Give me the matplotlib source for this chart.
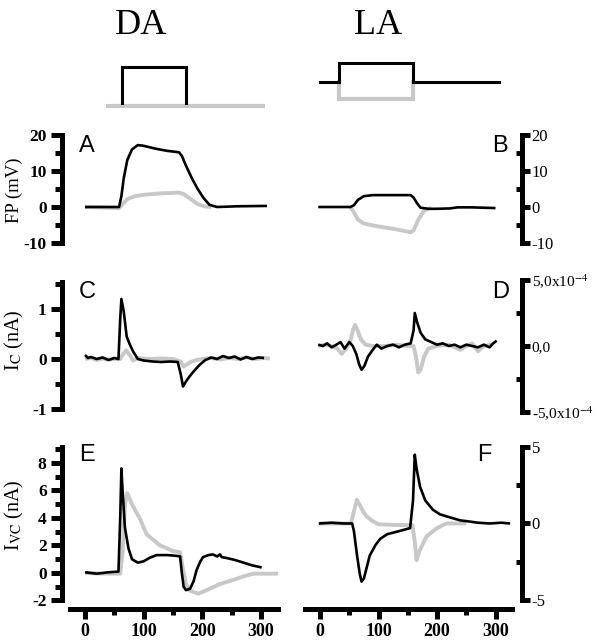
import matplotlib
matplotlib.use("Agg")
import matplotlib.pyplot as plt
from matplotlib.ticker import MultipleLocator, FixedLocator

plt.rcParams['mathtext.fontset'] = 'stix'
SERIF = 'Liberation Serif'
SANS = 'Liberation Sans'

BLACK = '#000000'
GRAY = '#c8c8c8'

# ---------------- data ----------------
# stimulus protocols (time in ms, level in arbitrary units)
da_stim_t_black = [63, 63, 172, 172]
da_stim_black = [0.0, 1.0, 1.0, 0.0]
da_stim_t_gray = [36, 307]
da_stim_gray = [-0.083, -0.083]
la_stim_t_black = [0, 32.5, 32.5, 159, 159, 306]
la_stim_black = [0.583, 0.583, 1.11, 1.11, 0.583, 0.583]
la_stim_t_gray = [32.5, 32.5, 159, 159]
la_stim_gray = [0.583, 0.111, 0.111, 0.583]

# A: FP (mV), DA
a_t_black = [0, 58, 62, 66, 72, 80, 90, 100, 120, 140, 160, 165, 172, 182, 192, 202, 212, 225, 260, 310]
a_black = [0, 0, 3, 8, 13, 16, 17.2, 17.0, 16.2, 15.6, 15.2, 14.2, 11.5, 8.0, 5.0, 2.5, 0.6, 0.0, 0.2, 0.3]
a_t_gray = [0, 58, 64, 72, 85, 100, 130, 160, 168, 180, 192, 205, 215]
a_gray = [0, -0.3, 0.8, 2.2, 3.0, 3.4, 3.8, 4.0, 3.6, 2.2, 0.8, 0.1, 0]

# B: FP (mV), LA
b_t_black = [-3, 52, 58, 65, 75, 90, 120, 155, 160, 166, 172, 185, 200, 222, 235, 260, 300]
b_black = [0, 0, 0.5, 2.0, 3.0, 3.3, 3.3, 3.3, 2.6, 1.0, -0.2, -0.5, -0.5, -0.4, -0.1, -0.1, -0.3]
b_t_gray = [52, 58, 65, 75, 100, 130, 155, 160, 168, 178, 190]
b_gray = [0, -1.5, -3.5, -4.6, -5.4, -6.2, -7.0, -6.5, -3.5, -1.0, -0.2]

# C: Ic (nA), DA
c_t_black = [0, 5, 10, 20, 30, 40, 50, 57, 60, 62, 66, 71, 76, 82, 90, 100, 115, 130, 145, 158, 163, 167,
             172, 178, 185, 195, 205, 215, 225, 235, 245, 255, 265, 275, 285, 295, 305]
c_black = [0.08, 0.02, 0.04, 0.0, 0.03, -0.02, 0.02, 0.0, 0.8, 1.2, 0.95, 0.45, 0.3, 0.15, 0.0, -0.03, -0.05,
           -0.06, -0.05, -0.06, -0.3, -0.55, -0.45, -0.35, -0.25, -0.12, -0.02, 0.03, 0.0, 0.06, 0.02, 0.05,
           -0.01, 0.04, 0.0, 0.03, 0.02]
c_t_gray = [0, 10, 20, 30, 40, 50, 60, 65, 70, 76, 82, 90, 110, 130, 150, 163, 168, 172, 180, 190, 200, 215,
            230, 245, 260, 275, 290, 305, 315]
c_gray = [0.0, 0.02, -0.02, 0.01, -0.01, 0.0, 0.0, 0.1, 0.17, 0.08, -0.03, 0.02, 0.0, 0.01, 0.0, -0.05, -0.15,
          -0.12, -0.06, -0.02, 0.0, 0.02, -0.01, 0.02, 0.0, 0.03, 0.0, 0.02, 0.01]

# D: Ic (x1e-4), LA
d_t_black = [-3, 5, 12, 20, 28, 35, 42, 50, 56, 62, 67, 71, 76, 82, 90, 97, 105, 115, 125, 135, 145, 155, 160,
             162, 166, 172, 180, 190, 200, 210, 220, 230, 240, 250, 260, 270, 280, 290, 296, 302]
d_black_e4 = [0.1, 0.0, 0.2, -0.1, 0.1, 0.3, -0.2, 0.3, 0.0, -0.6, -1.4, -1.8, -1.5, -0.8, -0.3, 0.1, -0.2, 0.0,
              0.1, -0.1, 0.1, 0.2, 1.2, 2.5, 1.8, 1.0, 0.5, 0.3, 0.1, 0.2, 0.0, 0.1, -0.1, 0.1, 0.0, -0.1, 0.1,
              -0.1, 0.2, 0.4]
d_t_gray = [-3, 10, 20, 30, 37, 45, 52, 57, 60, 64, 70, 78, 90, 110, 130, 150, 160, 164, 168, 172, 178, 185,
            200, 220, 240, 250, 260, 270, 280, 294]
d_gray_e4 = [0.0, 0.1, 0.0, -0.2, -0.6, -0.2, 0.4, 1.3, 1.6, 1.2, 0.5, 0.1, 0.0, 0.0, 0.1, 0.0, 0.0, -0.8, -2.0,
             -1.8, -0.8, -0.2, 0.0, 0.1, -0.3, 0.0, 0.2, -0.4, 0.0, 0.1]

# E: Ivc (nA), DA
e_t_black = [0, 20, 40, 57, 60, 62, 64, 68, 74, 80, 90, 100, 110, 122, 140, 155, 162, 165, 168, 172, 179, 185,
             190, 196, 201, 210, 218, 225, 230, 233, 240, 255, 270, 285, 301]
e_black = [0.05, -0.05, 0.05, 0.1, 4.0, 7.6, 6.0, 3.3, 1.8, 1.0, 0.75, 0.85, 1.1, 1.3, 1.3, 1.25, 1.2, 0.0, -1.0,
           -1.25, -1.15, -0.6, 0.2, 0.8, 1.15, 1.3, 1.35, 1.2, 1.35, 1.15, 1.1, 0.95, 0.75, 0.55, 0.4]
e_t_gray = [0, 30, 60, 64, 68, 72, 80, 94, 105, 128, 150, 162, 166, 172, 179, 193, 210, 230, 253, 270, 287,
            310, 329]
e_gray = [0.0, -0.05, -0.05, 1.5, 5.0, 5.8, 5.0, 3.9, 2.8, 2.0, 1.6, 1.5, 0.5, -0.8, -1.3, -1.5, -1.2, -0.8,
          -0.5, -0.25, -0.05, -0.05, -0.05]

# F: Ivc (nA), LA
f_t_black = [-2, 20, 40, 55, 58, 63, 68, 71, 75, 85, 95, 103, 115, 125, 140, 154, 159, 162, 165, 171, 180, 193,
             205, 222, 240, 251, 270, 290, 310, 325]
f_black = [0, 0.05, 0, 0, -0.5, -2.0, -3.3, -3.8, -3.6, -2.1, -1.4, -1.0, -0.7, -0.6, -0.45, -0.3, 1.5, 4.5,
           3.6, 2.4, 1.5, 0.9, 0.6, 0.4, 0.2, 0.15, 0.05, 0.0, 0.05, 0.0]
f_t_gray = [-2, 30, 53, 58, 63, 68, 75, 80, 90, 100, 130, 158, 162, 165, 170, 182, 200, 216, 250]
f_gray = [0, 0, 0, 0.8, 1.55, 1.2, 0.7, 0.45, 0.15, -0.05, -0.1, -0.1, -1.2, -2.4, -1.8, -0.85, -0.3, 0.0, 0.0]

x_ticks = [0, 100, 200, 300]
x_tick_labels = ['0', '100', '200', '300']
fp_ticks = [-10, 0, 10, 20]
c_ticks = [-1, 0, 1]
d_ticks = [-5e-4, 0, 5e-4]
d_tick_labels = [r'-5,0x10$^{-4}$', '0,0', r'5,0x10$^{-4}$']
e_ticks = [-2, 0, 2, 4, 6, 8]
f_ticks = [-5, 0, 5]

# ---------------- layout ----------------
W, H = 609, 640
fig = plt.figure(figsize=(W / 100, H / 100), dpi=100)


def add_ax(l, t, r, b):
    return fig.add_axes([l / W, 1 - b / H, (r - l) / W, (b - t) / H])


LEFT_X = (62, 280)
RIGHT_X = (305, 522)
LEFT_XLIM = ((62 - 85) / 0.587, (280 - 85) / 0.587)
RIGHT_XLIM = ((305 - 320) / 0.585, (522 - 320) / 0.585)

SPW = 3.6


def style(ax, side, xlim, ylim, yb, majors, minor_step, labels=None, lsize=12, lweight='normal',
          xaxis=False, xb=None):
    ax.set_xlim(*xlim)
    ax.set_ylim(*ylim)
    for s in ['top', 'left', 'right', 'bottom']:
        ax.spines[s].set_visible(False)
    sp = ax.spines[side]
    sp.set_visible(True)
    sp.set_linewidth(SPW)
    sp.set_capstyle('projecting')
    sp.set_bounds(*yb)
    ax.yaxis.set_major_locator(FixedLocator(majors))
    ax.yaxis.set_minor_locator(MultipleLocator(minor_step))
    if labels is None:
        labels = [('%g' % v) for v in majors]
    ax.set_yticklabels(labels, fontfamily=SERIF, fontsize=lsize, fontweight=lweight)
    if side == 'left':
        ax.yaxis.tick_left()
        ax.tick_params(axis='y', which='major', direction='out', length=8, width=SPW, pad=3)
        ax.tick_params(axis='y', which='minor', direction='out', length=5, width=SPW)
    else:
        ax.yaxis.tick_right()
        ax.tick_params(axis='y', which='major', direction='out', length=6, width=SPW, pad=1)
        ax.tick_params(axis='y', which='minor', direction='in', length=4, width=SPW)
    if xaxis:
        sb = ax.spines['bottom']
        sb.set_visible(True)
        sb.set_linewidth(SPW)
        sb.set_capstyle('projecting')
        sb.set_bounds(*xb)
        ax.xaxis.set_major_locator(FixedLocator(x_ticks))
        ax.xaxis.set_minor_locator(FixedLocator([50, 150, 250]))
        ax.set_xticklabels(x_tick_labels, fontfamily=SERIF, fontsize=13, fontweight='bold')
        ax.tick_params(axis='x', which='major', direction='out', length=7, width=SPW, pad=3)
        ax.tick_params(axis='x', which='minor', direction='out', length=4, width=SPW)
    else:
        ax.set_xticks([])
        ax.xaxis.set_minor_locator(FixedLocator([]))


def traces(ax, tg, g, tb, b, scale=1.0):
    ax.plot(tg, [v * scale for v in g], color=GRAY, lw=2.8, solid_capstyle='butt', zorder=2)
    ax.plot(tb, [v * scale for v in b], color=BLACK, lw=1.9, solid_capstyle='butt', zorder=3)


# stimulus axes
sl = add_ax(LEFT_X[0], 55, LEFT_X[1], 115)
sl.set_xlim(*LEFT_XLIM)
sl.set_ylim(-0.333, 1.333)
sl.axis('off')
sl.plot(da_stim_t_gray, da_stim_gray, color=GRAY, lw=3.0, solid_capstyle='butt')
sl.plot(da_stim_t_black, da_stim_black, color=BLACK, lw=2.2, solid_joinstyle='miter')

sr = add_ax(RIGHT_X[0], 55, RIGHT_X[1], 115)
sr.set_xlim(*RIGHT_XLIM)
sr.set_ylim(-0.333, 1.333)
sr.axis('off')
sr.plot(la_stim_t_gray, la_stim_gray, color=GRAY, lw=3.0, solid_joinstyle='miter')
sr.plot(la_stim_t_black, la_stim_black, color=BLACK, lw=2.2, solid_joinstyle='miter')

# A
axA = add_ax(LEFT_X[0], 135, LEFT_X[1], 243)
traces(axA, a_t_gray, a_gray, a_t_black, a_black)
style(axA, 'left', LEFT_XLIM, (-10, 20), (-10, 20), fp_ticks, 5, lsize=12.5, lweight='bold')
# B
axB = add_ax(RIGHT_X[0], 135, RIGHT_X[1], 243)
traces(axB, b_t_gray, b_gray, b_t_black, b_black)
style(axB, 'right', RIGHT_XLIM, (-10, 20), (-10, 20), fp_ticks, 5, lsize=12)
# C
axC = add_ax(LEFT_X[0], 282, LEFT_X[1], 409)
traces(axC, c_t_gray, c_gray, c_t_black, c_black)
style(axC, 'left', LEFT_XLIM, (-1, 1.54), (-1, 1.54), c_ticks, 0.5, lsize=12.5, lweight='bold')
# D
axD = add_ax(RIGHT_X[0], 280, RIGHT_X[1], 412)
traces(axD, d_t_gray, d_gray_e4, d_t_black, d_black_e4, scale=1e-4)
style(axD, 'right', RIGHT_XLIM, (-5e-4, 5e-4), (-5e-4, 5e-4), d_ticks, 2.5e-4,
      labels=d_tick_labels, lsize=11)
# E
axE = add_ax(LEFT_X[0], 447, LEFT_X[1], 609)
traces(axE, e_t_gray, e_gray, e_t_black, e_black)
style(axE, 'left', LEFT_XLIM, (-2.62, 9.16), (-2, 9.16), e_ticks, 1, lsize=12.5, lweight='bold',
      xaxis=True, xb=(-25, 329))
# F
axF = add_ax(RIGHT_X[0], 447, RIGHT_X[1], 609)
traces(axF, f_t_gray, f_gray, f_t_black, f_black)
style(axF, 'right', RIGHT_XLIM, (-5.59, 5), (-5, 5), f_ticks, 2.5, lsize=12,
      xaxis=True, xb=(-25.6, 328))

# panel letters
for lab, (x, y) in zip('ABCDEF', [(79, 146), (492, 146), (79, 292), (492, 292), (79, 455), (477, 455)]):
    fig.text(x / W, 1 - y / H, lab, fontfamily=SANS, fontsize=17, ha='left', va='center')

# column titles
fig.text(141 / W, 1 - 26 / H, 'DA', fontfamily=SERIF, fontsize=26, ha='center', va='center')
fig.text(378 / W, 1 - 26 / H, 'LA', fontfamily=SERIF, fontsize=26, ha='center', va='center')

# y labels
fig.text(14 / W, 1 - 190 / H, 'FP (mV)', fontfamily=SERIF, fontsize=13.5, rotation=90, ha='center', va='center')
fig.text(14 / W, 1 - 340 / H, r'I$_{\mathrm{C}}$ (nA)', fontfamily=SERIF, fontsize=14.5, rotation=90,
         ha='center', va='center')
fig.text(14 / W, 1 - 515 / H, r'I$_{\mathrm{VC}}$ (nA)', fontfamily=SERIF, fontsize=14.5, rotation=90,
         ha='center', va='center')

fig.savefig('out.png', dpi=100)
